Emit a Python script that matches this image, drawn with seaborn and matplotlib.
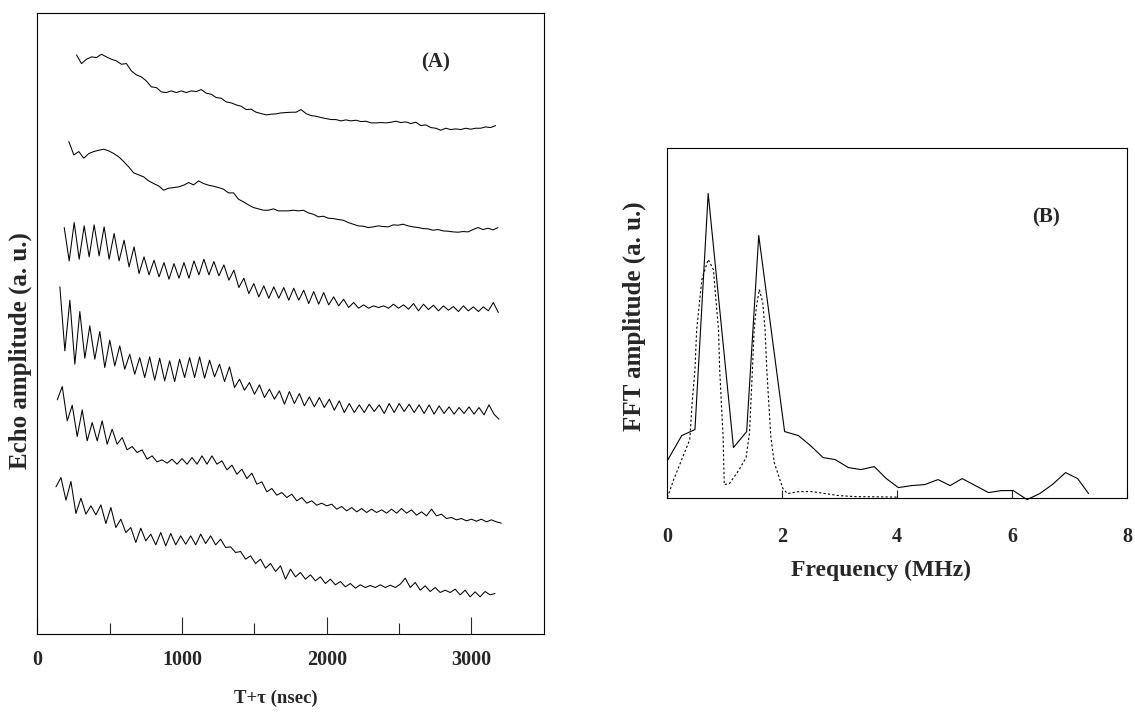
import numpy as np
import pandas as pd
import matplotlib
matplotlib.use("Agg")
import matplotlib.pyplot as plt
import seaborn as sns

sns.set_theme(style="white")
plt.rcParams["font.family"] = ["Liberation Serif", "DejaVu Serif"]

# panel A - echo traces, every 34.5 ns from each start time
dt = 34.5
t_start = [270, 217, 185, 155, 137, 128]
offsets = [1479, 1194, 969, 639, 309, 84]  # vertical stacking of the traces

trace1 = [258, 232, 245, 252, 250, 260, 252, 245, 240, 230, 232, 210, 198, 192, 180,
          162, 160, 147, 145, 150, 145, 150, 145, 150, 148, 154, 143, 140, 130, 128,
          117, 114, 108, 104, 94, 95, 86, 82, 78, 80, 81, 84, 85, 86, 86, 94, 82, 76,
          74, 70, 67, 64, 64, 60, 63, 60, 62, 58, 59, 54, 54, 55, 54, 56, 59, 55, 57,
          52, 56, 46, 48, 40, 38, 32, 38, 34, 36, 34, 38, 35, 38, 38, 42, 40, 46]
trace2 = [283, 243, 253, 233, 247, 253, 257, 260, 255, 247, 237, 223, 207, 189, 183,
          177, 165, 157, 150, 137, 143, 145, 147, 152, 160, 153, 165, 157, 152, 149,
          145, 140, 129, 129, 110, 102, 93, 85, 81, 77, 77, 81, 75, 75, 75, 77, 75, 77,
          69, 65, 57, 59, 53, 52, 49, 47, 40, 35, 30, 29, 25, 27, 30, 28, 27, 33, 32,
          35, 30, 27, 25, 22, 21, 17, 19, 15, 14, 12, 11, 13, 12, 19, 25, 19, 23, 18, 25]
trace3 = [250, 150, 265, 155, 255, 162, 258, 165, 252, 155, 232, 150, 212, 132, 192,
          112, 162, 108, 152, 102, 145, 95, 142, 98, 145, 98, 150, 108, 155, 108, 148,
          105, 138, 92, 122, 70, 98, 52, 82, 42, 75, 38, 72, 38, 70, 32, 68, 32, 62, 22,
          58, 20, 55, 18, 42, 15, 35, 10, 25, 8, 18, 8, 15, 10, 15, 8, 20, 8, 18, 5, 22,
          0, 20, 4, 17, 0, 15, 2, 13, -2, 15, 0, 12, -2, 12, 0, 25, -5]
trace4 = [402, 210, 362, 170, 328, 188, 285, 185, 268, 160, 242, 165, 225, 155, 200,
          140, 190, 130, 192, 122, 188, 120, 180, 118, 185, 130, 190, 130, 192, 128,
          182, 132, 170, 118, 162, 100, 125, 92, 115, 80, 108, 70, 95, 65, 90, 50, 88,
          52, 82, 45, 72, 42, 70, 40, 65, 32, 60, 25, 52, 25, 48, 25, 50, 28, 48, 22,
          52, 25, 52, 28, 50, 25, 48, 22, 48, 20, 45, 22, 42, 20, 40, 22, 42, 20, 40,
          18, 48, 20, 5]
trace5 = [393, 433, 330, 377, 283, 363, 270, 325, 270, 330, 260, 305, 260, 280, 243,
          253, 235, 243, 215, 225, 207, 213, 203, 215, 200, 217, 200, 220, 200, 225,
          200, 225, 200, 210, 183, 197, 170, 185, 157, 173, 140, 147, 117, 127, 107,
          115, 100, 110, 90, 100, 83, 90, 77, 83, 75, 80, 65, 73, 60, 70, 57, 67, 55,
          65, 55, 63, 53, 65, 53, 67, 53, 63, 47, 57, 45, 65, 45, 50, 37, 40, 33, 37,
          30, 35, 29, 35, 27, 33, 27, 23]
trace6 = [357, 385, 317, 373, 277, 323, 275, 300, 273, 303, 247, 295, 235, 260, 220,
          235, 190, 233, 195, 215, 183, 220, 180, 217, 183, 210, 185, 210, 183, 215,
          187, 210, 183, 200, 175, 177, 160, 163, 140, 150, 127, 140, 113, 127, 103,
          120, 80, 110, 87, 100, 80, 93, 75, 87, 67, 80, 63, 73, 57, 67, 53, 63, 55,
          61, 55, 63, 55, 62, 55, 65, 83, 55, 70, 47, 60, 43, 55, 40, 47, 40, 50, 33,
          47, 27, 42, 27, 43, 33, 37]
traces = [trace1, trace2, trace3, trace4, trace5, trace6]

# panel B - FFT amplitude
freq_solid = [0.0, 0.25, 0.48, 0.71, 1.15, 1.38, 1.59, 2.04, 2.28, 2.49, 2.71, 2.92,
              3.15, 3.37, 3.60, 3.81, 4.02, 4.25, 4.48, 4.71, 4.92, 5.13, 5.36, 5.59,
              5.81, 6.02, 6.26, 6.48, 6.70, 6.93, 7.14, 7.33]
fft_solid = [3.7, 6.2, 6.8, 30.4, 5.0, 6.6, 26.2, 6.6, 6.2, 5.2, 4.0, 3.8, 3.0, 2.8,
             3.1, 1.9, 1.0, 1.2, 1.3, 1.8, 1.2, 1.9, 1.2, 0.5, 0.7, 0.7, -0.2, 0.4,
             1.3, 2.5, 1.9, 0.4]
freq_dotted = [0.00, 0.11, 0.25, 0.39, 0.43, 0.48, 0.51, 0.60, 0.71, 0.80, 0.84, 0.89,
               0.91, 0.94, 0.97, 0.99, 1.08, 1.25, 1.37, 1.43, 1.48, 1.51, 1.55, 1.60,
               1.66, 1.70, 1.73, 1.80, 1.86, 2.01, 2.09, 2.29, 2.52, 2.75, 2.98, 3.26,
               4.00]
fft_dotted = [0.0, 1.8, 3.8, 5.8, 9.4, 12.8, 16.8, 21.8, 23.8, 22.8, 20.1, 16.8, 12.8,
              9.4, 6.1, 1.3, 1.4, 2.8, 4.0, 6.5, 12.8, 16.8, 19.1, 20.8, 19.5, 16.8,
              12.8, 6.1, 3.5, 0.9, 0.4, 0.6, 0.6, 0.4, 0.2, 0.1, 0.05]

frames = []
for k, (t0, off, tr) in enumerate(zip(t_start, offsets, traces)):
    tr = np.array(tr, dtype=float)
    frames.append(pd.DataFrame({"time": t0 + dt * np.arange(len(tr)),
                                "amp": off + tr, "trace": k}))
df = pd.concat(frames, ignore_index=True)

fig = plt.figure(figsize=(11.35, 7.17), dpi=100)
axA = fig.add_axes([0.033, 0.116, 0.446, 0.866])
axB = fig.add_axes([0.588, 0.306, 0.405, 0.487])

sns.lineplot(data=df, x="time", y="amp", units="trace", estimator=None, sort=False,
             color="black", lw=0.75, ax=axA)
sns.lineplot(x=freq_solid, y=fft_solid, color="black", lw=0.8, ax=axB, clip_on=False)
sns.lineplot(x=freq_dotted, y=fft_dotted, color="black", lw=0.8,
             linestyle=(0, (2, 2)), ax=axB)

for ax in (axA, axB):
    for s in ax.spines.values():
        s.set_color("black")
        s.set_linewidth(0.8)
    ax.set_yticks([])

# panel A axes
axA.set_xlim(0, 3500)
axA.set_ylim(0, 1863)
axA.set_xticks([0, 1000, 2000, 3000])
axA.set_xticks([500, 1500, 2500], minor=True)
axA.set_xticklabels(["0", "1000", "2000", "3000"], fontweight="bold")
axA.tick_params(axis="x", which="major", direction="in", length=12, width=0.8,
                pad=12, labelsize=14.5, bottom=True)
axA.tick_params(axis="x", which="minor", direction="in", length=8, width=0.8,
                bottom=True)
axA.set_xlabel("T+τ (nsec)", fontsize=13.5, fontweight="bold")
axA.xaxis.set_label_coords(0.47, -0.09)
axA.set_ylabel("Echo amplitude (a. u.)", fontsize=18, fontweight="bold")
axA.yaxis.set_label_coords(-0.01, 0.457)
axA.text(2750, 1713, "(A)", fontsize=15, fontweight="bold", ha="center", va="center")

# panel B axes
axB.set_xlim(0, 8)
axB.set_ylim(0, 34.9)
axB.set_xticks([0, 2, 4, 6, 8])
axB.set_xticklabels(["0", "2", "4", "6", "8"], fontweight="bold")
axB.tick_params(axis="x", direction="in", length=6, width=0.8, pad=21,
                labelsize=14.5, bottom=True)
axB.set_xlabel("Frequency (MHz)", fontsize=17, fontweight="bold")
axB.xaxis.set_label_coords(0.465, -0.178)
axB.set_ylabel("FFT amplitude (a. u.)", fontsize=18, fontweight="bold")
axB.yaxis.set_label_coords(-0.047, 0.52)
axB.text(6.59, 28.0, "(B)", fontsize=15, fontweight="bold", ha="center", va="center")

fig.savefig("out.png", dpi=100, facecolor="white")
